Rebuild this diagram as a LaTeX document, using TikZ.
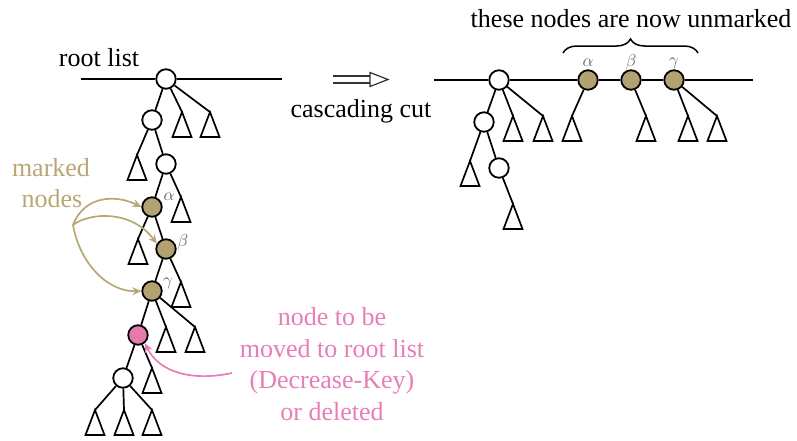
\documentclass[tikz,border=0pt]{standalone}
\usepackage{fontspec}
\setmainfont{Liberation Serif}
\usetikzlibrary{arrows.meta,decorations.pathreplacing}
\definecolor{gold}{HTML}{B8A775}
\definecolor{goldfill}{HTML}{B3A271}
\definecolor{rose}{HTML}{E97DB5}
\definecolor{rosefill}{HTML}{E57AAE}
\definecolor{lbl}{HTML}{5A5A5A}
\begin{document}
\begin{tikzpicture}[x=1pt,y=-1pt,
  edge/.style={line width=1.7pt},
  nd/.style={circle,draw,line width=1.8pt,minimum size=19.5pt,inner sep=0pt,fill=white},
  mk/.style={nd,fill=goldfill},
  del/.style={nd,fill=rosefill},
  big/.style={font=\fontsize{26}{31}\selectfont,inner sep=0pt,anchor=base},
  greek/.style={font=\fontsize{17}{17}\selectfont,text=lbl,inner sep=0pt},
  markarrow/.style={draw=gold,line width=1.7pt,-{Stealth[length=9pt,width=8pt]}},
  delarrow/.style={draw=rose,line width=1.7pt,-{Stealth[length=9pt,width=8pt]}},
  tri/.pic={\draw[line width=1.7pt,line join=miter] (0,0) -- (-9.5,25) -- (9.5,25) -- cycle;},
]
\useasboundingbox (0,0) rectangle (797,440);

% ---------- heap before the cut ----------
\coordinate (L0) at (81,79);
\coordinate (L1) at (282,79);
\node[nd]  (R)  at (166,79) {};
\node[nd]  (A)  at (152,120) {};
\node[nd]  (B)  at (166,164) {};
\node[mk]  (al) at (152,207) {};
\node[mk]  (be) at (166,249) {};
\node[mk]  (ga) at (152,291) {};
\node[del] (pk) at (138,335) {};
\node[nd]  (C)  at (123,378) {};

\foreach \n/\x/\y in {tA1/182/112, tA2/210/112, tB1/137/155, tC1/181/197,
                      tD1/138/239, tE1/181/282, tF1/166/327, tF2/195/327,
                      tG1/152/368, tH1/95/410, tH2/124/410, tH3/152/410}
  {\coordinate (\n) at (\x,\y); \pic at (\n) {tri};}

\draw[edge] (L0) -- (R) -- (L1);
\draw[edge] (R) -- (A);  \draw[edge] (R) -- (tA1); \draw[edge] (R) -- (tA2);
\draw[edge] (A) -- (tB1); \draw[edge] (A) -- (B);
\draw[edge] (B) -- (al); \draw[edge] (B) -- (tC1);
\draw[edge] (al) -- (tD1); \draw[edge] (al) -- (be);
\draw[edge] (be) -- (ga); \draw[edge] (be) -- (tE1);
\draw[edge] (ga) -- (pk); \draw[edge] (ga) -- (tF1); \draw[edge] (ga) -- (tF2);
\draw[edge] (pk) -- (C); \draw[edge] (pk) -- (tG1);
\draw[edge] (C) -- (tH1); \draw[edge] (C) -- (tH2); \draw[edge] (C) -- (tH3);

\node[greek] (la1) at (169,197) {$\alpha$};
\node[greek] (lb1) at (183,242) {$\beta$};
\node[greek] (lg1) at (168,283) {$\gamma$};

\node[big] (rootlist) at (99,66) {root list};

% marked nodes and their arrows
\node[big,text=gold] (mk1) at (51,176) {marked};
\node[big,text=gold] (mk2) at (52,207) {nodes};
\coordinate (m0) at (73,225);
\draw[markarrow] (m0) .. controls (84,196) and (115,194) .. (al.west);
\draw[markarrow] (m0) .. controls (90,212) and (132,210) .. (be.150);
\draw[markarrow] (m0) .. controls (80,264) and (108,292) .. (ga.west);

% node to be cut
\node[big,text=rose] (d1) at (332,325) {node to be};
\node[big,text=rose] (d2) at (332,357) {moved to root list};
\node[big,text=rose] (d3) at (332,388) {(Decrease-Key)};
\node[big,text=rose] (d4) at (332,420) {or deleted};
\coordinate (p0) at (232,373);
\draw[delarrow] (p0) .. controls (195,381) and (160,374) .. (pk.-50);

% ---------- transition arrow ----------
\coordinate (s0) at (333,76);
\coordinate (s1) at (370,76);
\coordinate (s2) at (333,83);
\coordinate (s3) at (370,83);
\coordinate (h0) at (370,72.5);
\coordinate (h1) at (388,79.5);
\coordinate (h2) at (370,86.5);
\draw[line width=1.2pt,black!80] (s0) -- (s1) (s2) -- (s3);
\draw[line width=1.2pt,black!80,line join=miter] (h0) -- (h1) -- (h2) -- cycle;
\node[big] (cc) at (361,117) {cascading cut};

% ---------- heap after the cut ----------
\coordinate (L2) at (434,80);
\coordinate (L3) at (753,80);
\node[nd] (R2) at (499,80) {};
\node[nd] (A2) at (484,122) {};
\node[nd] (B2) at (499,168) {};
\node[mk] (al2) at (588,80) {};
\node[mk] (be2) at (631,80) {};
\node[mk] (ga2) at (674,80) {};

\foreach \n/\x/\y in {uA1/513/116, uA2/543/116, uB1/470/161, uC1/513/204,
                      uD1/572/116, uE1/646/116, uF1/688/116, uF2/717/116}
  {\coordinate (\n) at (\x,\y); \pic at (\n) {tri};}

\draw[edge] (L2) -- (R2) -- (al2) -- (be2) -- (ga2) -- (L3);
\draw[edge] (R2) -- (A2); \draw[edge] (R2) -- (uA1); \draw[edge] (R2) -- (uA2);
\draw[edge] (A2) -- (uB1); \draw[edge] (A2) -- (B2);
\draw[edge] (B2) -- (uC1);
\draw[edge] (al2) -- (uD1);
\draw[edge] (be2) -- (uE1);
\draw[edge] (ga2) -- (uF1); \draw[edge] (ga2) -- (uF2);

\node[greek] (la2) at (588,63) {$\alpha$};
\node[greek] (lb2) at (631,62) {$\beta$};
\node[greek] (lg2) at (674,63) {$\gamma$};

\coordinate (b0) at (563,53);
\coordinate (b1) at (698,53);
\draw[line width=1.5pt,decorate,decoration={brace,amplitude=14pt}] (b0) -- (b1);
\node[big] (unm) at (631,27) {these nodes are now unmarked};
\end{tikzpicture}
\end{document}
